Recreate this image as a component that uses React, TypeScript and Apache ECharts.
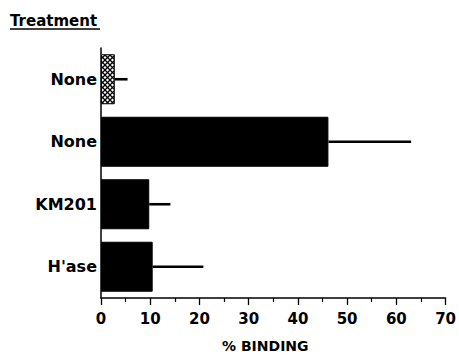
import React, { useEffect, useRef } from "react";
import * as echarts from "echarts";

const categories = ["None", "None", "KM201", "H'ase"];
const meanBinding = [2.8, 46.2, 9.8, 10.5];
const upperError = [5.4, 63.0, 14.1, 20.8];
const xTicks = { min: 0, max: 70, interval: 10 };
const titleText = "Treatment";
const xAxisName = "% BINDING";

const FONT = "'DejaVu Sans', 'Liberation Sans', Arial, sans-serif";

const hatchSvg =
  "data:image/svg+xml;utf8," +
  encodeURIComponent(
    '<svg xmlns="http://www.w3.org/2000/svg" width="5" height="5">' +
      '<rect width="5" height="5" fill="#fff"/>' +
      '<path d="M-1,1 L1,-1 M0,5 L5,0 M4,6 L6,4" stroke="#000" stroke-width="1.3"/>' +
      '<path d="M-1,4 L1,6 M0,0 L5,5 M4,-1 L6,1" stroke="#000" stroke-width="1.3"/>' +
      "</svg>"
  );

export default function App() {
  const ref = useRef<HTMLDivElement>(null);

  useEffect(() => {
    if (!ref.current) return;
    const chart = echarts.init(ref.current, undefined, { renderer: "svg" });

    const barData = meanBinding.map((v, i) =>
      i === 0
        ? {
            value: v,
            itemStyle: {
              color: {
                image: hatchSvg,
                repeat: "repeat",
                imageWidth: 5,
                imageHeight: 5,
              } as any,
              borderColor: "#000",
              borderWidth: 1,
            },
          }
        : { value: v }
    );

    const errData = meanBinding.map((v, i) => [v, upperError[i], i]);

    chart.setOption({
      animation: false,
      backgroundColor: "#fff",
      grid: { left: 101, right: 12, top: 48, bottom: 57, containLabel: false },
      graphic: [
        {
          type: "text",
          left: 10,
          top: 13,
          style: {
            text: titleText,
            font: `bold 15px ${FONT}`,
            fill: "#000",
          },
        },
        {
          type: "line",
          shape: { x1: 10, y1: 29, x2: 100, y2: 29 },
          style: { stroke: "#000", lineWidth: 1.3 },
        },
      ],
      xAxis: {
        type: "value",
        min: xTicks.min,
        max: xTicks.max,
        interval: xTicks.interval,
        name: xAxisName,
        nameLocation: "middle",
        nameGap: 41,
        nameTextStyle: {
          fontFamily: FONT,
          fontWeight: "bold",
          fontSize: 14,
          color: "#000",
          padding: [0, 16, 0, 0],
        },
        axisLine: { show: true, lineStyle: { color: "#000", width: 1.5 } },
        axisTick: { show: true, length: 7, lineStyle: { color: "#000", width: 1.3 } },
        minorTick: { show: true, splitNumber: 2, length: 4, lineStyle: { color: "#000", width: 1.2 } },
        splitLine: { show: false },
        axisLabel: {
          margin: 13,
          fontFamily: FONT,
          fontWeight: "bold",
          fontSize: 15,
          color: "#000",
        },
      },
      yAxis: {
        type: "category",
        data: categories,
        inverse: true,
        axisLine: { show: true, lineStyle: { color: "#000", width: 1.5 } },
        axisTick: { show: false },
        splitLine: { show: false },
        axisLabel: {
          margin: 4,
          fontFamily: FONT,
          fontWeight: "bold",
          fontSize: 16,
          color: "#000",
        },
      },
      series: [
        {
          type: "bar",
          data: barData,
          barWidth: 50,
          itemStyle: { color: "#000", borderColor: "#000", borderWidth: 1 },
          z: 2,
        },
        {
          type: "custom",
          data: errData,
          encode: { x: [0, 1], y: 2 },
          z: 3,
          renderItem: (params: any, api: any) => {
            const lo = api.value(0);
            const hi = api.value(1);
            const idx = api.value(2);
            const p1 = api.coord([lo, idx]);
            const p2 = api.coord([hi, idx]);
            return {
              type: "line",
              shape: { x1: p1[0], y1: p1[1], x2: p2[0], y2: p2[1] },
              style: { stroke: "#000", lineWidth: 2.6 },
            };
          },
        },
      ],
    });

    return () => chart.dispose();
  }, []);

  return (
    <div
      ref={ref}
      style={{ position: "fixed", left: 0, top: 0, width: 459, height: 358 }}
    />
  );
}
